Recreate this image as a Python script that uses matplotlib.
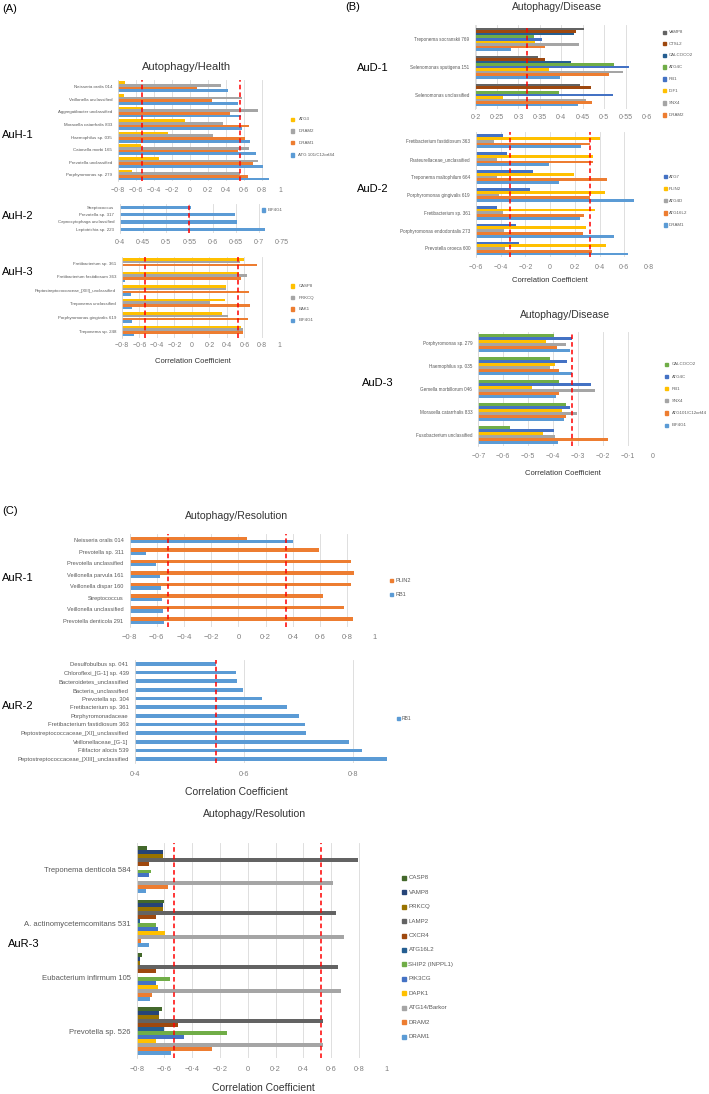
import matplotlib
matplotlib.use('Agg')
import matplotlib.pyplot as plt
from matplotlib.patches import Rectangle
from matplotlib.ticker import FuncFormatter
import numpy as np

plt.rcParams['font.family'] = ['Liberation Sans', 'DejaVu Sans']

W, H = 709, 1094

# Office palette used by the original Excel charts
C_LBLUE, C_ORANGE, C_GRAY, C_GOLD = '#5B9BD5', '#ED7D31', '#A5A5A5', '#FFC000'
C_BLUE, C_GREEN, C_DBLUE, C_BROWN = '#4472C4', '#70AD47', '#255E91', '#9E480E'
C_DGRAY, C_OLIVE, C_NAVY, C_DGREEN = '#636363', '#997300', '#264478', '#43682B'

# ---- AuH-1
auh1_taxa = ["Neisseria oralis 014", "Veillonella unclassified", "Aggregatibacter unclassified",
             "Moraxella catarrhalis 833", "Haemophilus sp. 035", "Catonella morbi 165",
             "Prevotella unclassified", "Porphyromonas sp. 279"]
auh1_atg3 = [-0.72, -0.73, -0.52, -0.06, -0.25, -0.55, -0.35, -0.64]
auh1_dram2 = [0.34, 0.58, 0.75, 0.37, 0.26, 0.65, 0.75, 0.56]
auh1_dram1 = [0.08, 0.24, 0.44, 0.66, 0.61, 0.53, 0.70, 0.64]
auh1_atg101 = [0.42, 0.53, 0.57, 0.58, 0.67, 0.73, 0.81, 0.88]

# ---- AuH-2
auh2_taxa = ["Streptococcus", "Prevotella sp. 317", "Capnocytophaga unclassified", "Leptotrichia sp. 223"]
auh2_eif4g1 = [0.553, 0.648, 0.652, 0.713]

# ---- AuH-3
auh3_taxa = ["Fretibacterium sp. 361", "Fretibacterium fastidiosum 363",
             "Peptostreptococcaceae_[XIII]_unclassified", "Treponema unclassified",
             "Porphyromonas gingivalis 619", "Treponema sp. 248"]
auh3_casp8 = [0.60, 0.54, 0.39, 0.38, 0.35, 0.56]
auh3_prkcq = [0.55, 0.63, 0.39, 0.21, 0.41, 0.59]
auh3_bak1 = [0.74, 0.56, 0.65, 0.66, 0.64, 0.59]
auh3_eif4g1 = [-0.80, -0.77, -0.70, -0.69, -0.68, -0.66]

# ---- AuD-1
aud1_taxa = ["Treponema socranskii 769", "Selenomonas sputigena 151", "Selenomonas unclassified"]
aud1_vamp8 = [0.454, 0.345, 0.443]
aud1_ctsl2 = [0.434, 0.362, 0.470]
aud1_calcoco2 = [0.430, 0.422, 0.200]
aud1_atg4c = [0.336, 0.523, 0.395]
aud1_rb1 = [0.354, 0.557, 0.520]
aud1_igf1 = [0.339, 0.371, 0.264]
aud1_snx4 = [0.441, 0.543, 0.457]
aud1_dram2 = [0.361, 0.511, 0.471]
aud1_dram1 = [0.283, 0.398, 0.438]

# ---- AuD-2
aud2_taxa = ["Fretibacterium fastidiosum 363", "Pasteurellaceae_unclassified",
             "Treponema maltophilum 664", "Porphyromonas gingivalis 619",
             "Fretibacterium sp. 361", "Porphyromonas endodontalis 273", "Prevotella oroeca 600"]
aud2_atg7 = [-0.383, -0.348, -0.135, -0.162, -0.431, -0.278, -0.248]
aud2_plin2 = [0.402, 0.345, 0.197, 0.445, 0.359, 0.294, 0.450]
aud2_atg4d = [-0.453, -0.431, -0.429, -0.410, -0.383, -0.372, -0.364]
aud2_atg16l2 = [0.324, 0.345, 0.461, 0.324, 0.272, 0.264, 0.337]
aud2_dram1 = [0.253, -0.008, 0.075, 0.680, 0.243, 0.518, 0.631]

# ---- AuD-3
aud3_taxa = ["Porphyromonas sp. 279", "Haemophilus sp. 035", "Gemella morbillorum 046",
             "Moraxella catarrhalis 833", "Fusobacterium unclassified"]
aud3_calcoco2 = [-0.396, -0.412, -0.377, -0.347, -0.574]
aud3_atg4c = [-0.324, -0.343, -0.249, -0.333, -0.396]
aud3_rb1 = [-0.428, -0.392, -0.486, -0.364, -0.441]
aud3_snx4 = [-0.349, -0.412, -0.232, -0.304, -0.392]
aud3_atg101 = [-0.384, -0.375, -0.375, -0.349, -0.181]
aud3_eif4g1 = [-0.332, -0.323, -0.388, -0.357, -0.379]

# ---- AuR-1
aur1_taxa = ["Neisseria oralis 014", "Prevotella sp. 311", "Prevotella unclassified",
             "Veillonella parvula 161", "Veillonella dispar 160", "Streptococcus",
             "Veillonella unclassified", "Prevotella denticola 291"]
aur1_plin2 = [0.063, 0.592, 0.825, 0.852, 0.825, 0.619, 0.778, 0.842]
aur1_rb1 = [0.401, -0.681, -0.608, -0.576, -0.569, -0.563, -0.556, -0.547]

# ---- AuR-2
aur2_taxa = ["Desulfobulbus sp. 041", "Chloroflexi_[G-1] sp. 439", "Bacteroidetes_unclassified",
             "Bacteria_unclassified", "Prevotella sp. 304", "Fretibacterium sp. 361",
             "Porphyromonadaceae", "Fretibacterium fastidiosum 363",
             "Peptostreptococcaceae_[XI]_unclassified", "Veillonellaceae_[G-1]",
             "Filifactor alocis 539", "Peptostreptococcaceae_[XIII]_unclassified"]
aur2_rb1 = [0.549, 0.586, 0.588, 0.598, 0.633, 0.679, 0.701, 0.711, 0.714, 0.792, 0.815, 0.862]

# ---- AuR-3
aur3_taxa = ["Treponema denticola 584", "A. actinomycetemcomitans 531",
             "Eubacterium infirmum 105", "Prevotella sp. 526"]
aur3_genes = ["CASP8", "VAMP8", "PRKCQ", "LAMP2", "CXCR4", "ATG16L2", "SHIP2 (INPPL1)",
              "PIK3CG", "DAPK1", "ATG14/Barkor", "DRAM2", "DRAM1"]
aur3_casp8 = [-0.724, -0.603, -0.762, -0.620]
aur3_vamp8 = [-0.611, -0.611, -0.778, -0.637]
aur3_prkcq = [-0.611, -0.611, -0.778, -0.637]
aur3_lamp2 = [0.795, 0.635, 0.651, 0.544]
aur3_cxcr4 = [-0.711, -0.663, -0.663, -0.503]
aur3_atg16l2 = [-0.800, -0.778, -0.800, -0.603]
aur3_ship2 = [-0.697, -0.663, -0.562, -0.148]
aur3_pik3cg = [-0.711, -0.649, -0.663, -0.459]
aur3_dapk1 = [-0.800, -0.598, -0.649, -0.659]
aur3_atg14 = [0.613, 0.690, 0.669, 0.544]
aur3_dram2 = [-0.577, -0.767, -0.688, -0.260]
aur3_dram1 = [-0.731, -0.709, -0.702, -0.555]

fig = plt.figure(figsize=(W / 100, H / 100), dpi=100)
fig.patch.set_facecolor('white')


def ftext(x, y, s, **kw):
    kw.setdefault('va', 'center')
    return fig.text(x / W, 1 - y / H, s, **kw)


def fmt(v, pos=None):
    s = f'{round(v, 3) + 0.0:g}'
    if s in ('-0', '0'):
        return '0'
    return s.replace('-', '\u2212').replace('.', '\u00b7')


def panel(x0, x1, yc0, yc1, cats, series, colors, xlim, xticks, cuts, frac,
          cat_fs=3.2, tick_fs=5.0, tick_off=10):
    n = len(cats)
    step = (yc1 - yc0) / (n - 1)
    top, bot = yc0 - step / 2, yc1 + step / 2
    ax = fig.add_axes([x0 / W, 1 - bot / H, (x1 - x0) / W, (bot - top) / H])
    k = len(series)
    h = frac / k
    y = np.arange(n)
    for j, (vals, c) in enumerate(zip(series, colors)):
        vals = np.asarray(vals, dtype=float)
        ax.barh(y + (j - (k - 1) / 2) * h, vals - xlim[0], left=xlim[0],
                height=h, color=c, zorder=2)
    for t in cuts:
        ax.axvline(t, color='#FF0000', lw=1.1, ls=(0, (3, 2)), zorder=3)
    ax.set_xlim(*xlim)
    ax.set_ylim(n - 0.5, -0.5)
    ax.set_yticks(y)
    ax.set_yticklabels(cats, fontsize=cat_fs, color='#595959')
    ax.set_xticks(xticks)
    ax.xaxis.set_major_formatter(FuncFormatter(fmt))
    pad = (tick_off - 0.6 * tick_fs * 1.389) / 1.389
    ax.tick_params(axis='x', length=0, labelsize=tick_fs, labelcolor='#7f7f7f', pad=pad)
    ax.tick_params(axis='y', length=0, pad=4.3)
    ax.grid(axis='x', color='#D9D9D9', lw=0.6, zorder=0)
    ax.set_axisbelow(True)
    for s in ['top', 'right', 'bottom']:
        ax.spines[s].set_visible(False)
    ax.spines['left'].set_color('#D9D9D9')
    ax.spines['left'].set_linewidth(0.6)
    ax.set_facecolor('none')
    return ax


def legend(xs, xt, ys, labels, colors, sq=3.0, fs=3.2):
    for y, lab, c in zip(ys, labels, colors):
        fig.add_artist(Rectangle(((xs - sq / 2) / W, 1 - (y + sq / 2) / H), sq / W, sq / H,
                                 transform=fig.transFigure, color=c))
        ftext(xt, y, lab, fontsize=fs, color='#595959', ha='left')


step02 = np.round(np.arange(-0.8, 1.01, 0.2), 2)

# ---------------- (A) Autophagy/Health
ftext(2, 9, '(A)', fontsize=8)
ftext(187, 67, 'Autophagy/Health', fontsize=8, ha='center', color='#333333')

panel(118, 280, 86.7, 175, auh1_taxa, [auh1_atg3, auh1_dram2, auh1_dram1, auh1_atg101],
      [C_GOLD, C_GRAY, C_ORANGE, C_LBLUE], (-0.8, 1.0), step02, [-0.53, 0.55], 0.85,
      tick_off=9.7)
legend(292, 298.5, [119.3, 131, 142.7, 155], ['ATG3', 'DRAM2', 'DRAM1', 'ATG 101/C12orf44'],
       [C_GOLD, C_GRAY, C_ORANGE, C_LBLUE])
ftext(2, 135, 'AuH-1', fontsize=8)

panel(120, 282, 207.3, 229.3, auh2_taxa, [auh2_eif4g1], [C_LBLUE], (0.4, 0.75),
      np.round(np.arange(0.4, 0.751, 0.05), 2), [0.549], 0.45, tick_off=10.3)
legend(263.3, 267.5, [210], ['EIF4G1'], [C_LBLUE])
ftext(2, 216, 'AuH-2', fontsize=8)

panel(122, 279.3, 263.5, 331, auh3_taxa, [auh3_casp8, auh3_prkcq, auh3_bak1, auh3_eif4g1],
      [C_GOLD, C_GRAY, C_ORANGE, C_LBLUE], (-0.8, 1.0), step02, [-0.54, 0.53], 0.8,
      tick_off=8)
legend(292.5, 298.5, [286, 297.7, 309, 320.3], ['CASP8', 'PRKCQ', 'BAK1', 'EIF4G1'],
       [C_GOLD, C_GRAY, C_ORANGE, C_LBLUE])
ftext(2, 271.7, 'AuH-3', fontsize=8)
ftext(192.7, 361.7, 'Correlation Coefficient', fontsize=5.5, ha='center', color='#333333')

# ---------------- (B) Autophagy/Disease
ftext(345, 7, '(B)', fontsize=8)
ftext(556.7, 6.5, 'Autophagy/Disease', fontsize=7.5, ha='center', color='#333333')

panel(475.5, 647, 39.3, 95, aud1_taxa,
      [aud1_vamp8, aud1_ctsl2, aud1_calcoco2, aud1_atg4c, aud1_rb1, aud1_igf1,
       aud1_snx4, aud1_dram2, aud1_dram1],
      [C_DGRAY, C_BROWN, C_DBLUE, C_GREEN, C_BLUE, C_GOLD, C_GRAY, C_ORANGE, C_LBLUE],
      (0.2, 0.6), np.round(np.arange(0.2, 0.601, 0.05), 2), [0.321], 0.82,
      cat_fs=3.3, tick_off=9.4)
legend(664.3, 668.5, [32.3, 43.7, 55.3, 67, 79, 90.7, 103, 115],
       ['VAMP8', 'CTSL2', 'CALCOCO2', 'ATG4C', 'RB1', 'IGF1', 'SNX4', 'DRAM2'],
       [C_DGRAY, C_BROWN, C_DBLUE, C_GREEN, C_BLUE, C_GOLD, C_GRAY, C_ORANGE])
ftext(357, 67.7, 'AuD-1', fontsize=8)

panel(476, 649, 141.3, 248.5, aud2_taxa,
      [aud2_atg7, aud2_plin2, aud2_atg4d, aud2_atg16l2, aud2_dram1],
      [C_BLUE, C_GOLD, C_GRAY, C_ORANGE, C_LBLUE],
      (-0.6, 0.8), np.round(np.arange(-0.6, 0.801, 0.2), 2), [-0.324, 0.324], 0.78,
      cat_fs=3.3, tick_off=10.3)
legend(665, 669, [176.7, 188.8, 200.9, 213, 225], ['ATG7', 'PLIN2', 'ATG4D', 'ATG16L2', 'DRAM1'],
       [C_BLUE, C_GOLD, C_GRAY, C_ORANGE, C_LBLUE])
ftext(357, 189, 'AuD-2', fontsize=8)
ftext(550, 281, 'Correlation Coefficient', fontsize=5.5, ha='center', color='#333333')

ftext(565, 315, 'Autophagy/Disease', fontsize=7.5, ha='center', color='#333333')
panel(478.3, 652.7, 343, 434.7, aud3_taxa,
      [aud3_calcoco2, aud3_atg4c, aud3_rb1, aud3_snx4, aud3_atg101, aud3_eif4g1],
      [C_GREEN, C_BLUE, C_GOLD, C_GRAY, C_ORANGE, C_LBLUE],
      (-0.7, 0.0), np.round(np.arange(-0.7, 0.001, 0.1), 2), [-0.324], 0.79,
      cat_fs=3.3, tick_off=10.7)
legend(666.7, 672, [364.3, 376.5, 388.5, 400.7, 413, 425.3],
       ['CALCOCO2', 'ATG4C', 'RB1', 'SNX4', 'ATG101/C12orf44', 'EIF4G1'],
       [C_GREEN, C_BLUE, C_GOLD, C_GRAY, C_ORANGE, C_LBLUE])
ftext(361.7, 383.3, 'AuD-3', fontsize=8)
ftext(563, 473.3, 'Correlation Coefficient', fontsize=5.5, ha='center', color='#333333')

# ---------------- (C) Autophagy/Resolution
ftext(2, 511, '(C)', fontsize=8)
ftext(237, 516, 'Autophagy/Resolution', fontsize=7.6, ha='center', color='#333333')

panel(129.5, 374.5, 540, 620.8, aur1_taxa, [aur1_plin2, aur1_rb1], [C_ORANGE, C_LBLUE],
      (-0.8, 1.0), step02, [-0.515, 0.35], 0.58, cat_fs=4.1, tick_fs=5.5, tick_off=12.4)
legend(391.7, 395.5, [580.3, 594.7], ['PLIN2', 'RB1'], [C_ORANGE, C_LBLUE], sq=3.5, fs=4)
ftext(2, 578, 'AuR-1', fontsize=8)

panel(134.5, 391.8, 664, 759, aur2_taxa, [aur2_rb1], [C_LBLUE],
      (0.4, 0.87), [0.4, 0.6, 0.8], [0.549], 0.43, cat_fs=4.2, tick_fs=5.2, tick_off=11.7)
legend(398.3, 402, [718.3], ['RB1'], [C_LBLUE], sq=3.5, fs=3.6)
ftext(2, 706, 'AuR-2', fontsize=8)
ftext(236.7, 791.7, 'Correlation Coefficient', fontsize=7.5, ha='center', color='#333333')

ftext(254.3, 814, 'Autophagy/Resolution', fontsize=7.6, ha='center', color='#333333')
panel(136.7, 386.7, 869.5, 1031, aur3_taxa,
      [aur3_casp8, aur3_vamp8, aur3_prkcq, aur3_lamp2, aur3_cxcr4, aur3_atg16l2,
       aur3_ship2, aur3_pik3cg, aur3_dapk1, aur3_atg14, aur3_dram2, aur3_dram1],
      [C_DGREEN, C_NAVY, C_OLIVE, C_DGRAY, C_BROWN, C_DBLUE, C_GREEN, C_BLUE,
       C_GOLD, C_GRAY, C_ORANGE, C_LBLUE],
      (-0.8, 1.0), step02, [-0.534, 0.527], 0.885, cat_fs=5.5, tick_fs=5.3, tick_off=13)
legend(404.3, 408.5, list(877.7 + 14.45 * np.arange(12)), aur3_genes,
       [C_DGREEN, C_NAVY, C_OLIVE, C_DGRAY, C_BROWN, C_DBLUE, C_GREEN, C_BLUE,
        C_GOLD, C_GRAY, C_ORANGE, C_LBLUE], sq=4, fs=4.4)
ftext(8, 944, 'AuR-3', fontsize=8)
ftext(263.3, 1088.3, 'Correlation Coefficient', fontsize=7.5, ha='center', color='#333333')

fig.savefig('out.png', dpi=100, facecolor='white')
